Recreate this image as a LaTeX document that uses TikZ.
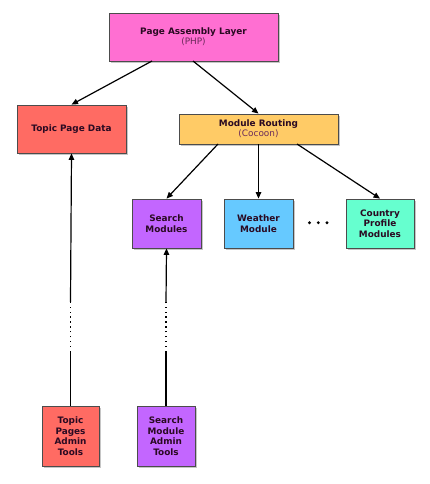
\documentclass[tikz,border=0pt]{standalone}
\usepackage{fontspec}
\setmainfont{DejaVu Sans}
\usetikzlibrary{arrows.meta,shadows}
\definecolor{cpink}{HTML}{FF6FD2}
\definecolor{cred}{HTML}{FF6B63}
\definecolor{corange}{HTML}{FFCB66}
\definecolor{cpurple}{HTML}{C366FF}
\definecolor{cblue}{HTML}{66C9FF}
\definecolor{cgreen}{HTML}{66FFCF}
\definecolor{ctext}{HTML}{2A0A22}
\definecolor{csub}{HTML}{6A2A5A}
\begin{document}
\begin{tikzpicture}[x=1pt,y=-1pt,
  box/.style={draw=black!70,line width=0.8pt,inner sep=0pt,align=center,
    font=\fontsize{8.9}{10.6}\selectfont\bfseries,text=ctext,
    drop shadow={opacity=0.45,shadow xshift=1.5pt,shadow yshift=-1.8pt}},
  arr/.style={line width=1.2pt,-{Triangle[length=6.5pt,width=5.5pt]}},
  ln/.style={line width=1.2pt},
  dots/.style={line width=1.3pt,dash pattern=on 1.3pt off 3.6pt}]
\useasboundingbox (0,0) rectangle (430,484);
\node[box,fill=cpink,minimum width=169pt,minimum height=48pt] (pal) at (193.5,37)
  {Page Assembly Layer\\[-0.5pt]{\mdseries\color{csub}(PHP)}};
\node[box,fill=cred,minimum width=109pt,minimum height=48pt] (tpd) at (71.5,129) {Topic Page Data};
\node[box,fill=corange,minimum width=159pt,minimum height=30pt] (mr) at (258.5,129)
  {Module Routing\\[-0.5pt]{\mdseries\color{csub}(Cocoon)}};
\node[box,fill=cpurple,minimum width=69pt,minimum height=49pt] (sm) at (166.5,223.5) {Search\\Modules};
\node[box,fill=cblue,minimum width=69pt,minimum height=49pt] (wm) at (258.5,223.5) {Weather\\Module};
\node[box,fill=cgreen,minimum width=68pt,minimum height=49pt] (cp) at (380,223.5) {Country\\Profile\\Modules};
\fill (309.5,222.7) circle (1.6pt) (318.3,222.7) circle (1.6pt) (327,222.7) circle (1.6pt);
\node[box,fill=cred,minimum width=57pt,minimum height=60pt] (tpa) at (70.5,436) {Topic\\Pages\\Admin\\Tools};
\node[box,fill=cpurple,minimum width=58pt,minimum height=60pt] (sma) at (166,436) {Search\\Module\\Admin\\Tools};
\coordinate (a1) at (70.5,352);
\coordinate (a2) at (70.5,302);
\coordinate (b1) at (166,352);
\coordinate (b2) at (166,302);
\draw[arr] (152,61) -- (tpd.north);
\draw[arr] (193,61) -- (mr.north);
\draw[arr] (218,144) -- (sm.north);
\draw[arr] (mr.south) -- (wm.north);
\draw[arr] (297,144) -- (cp.north);
\draw[ln] (tpa.north) -- (a1);
\draw[dots] (a1) -- (a2);
\draw[arr] (a2) -- (tpd.south);
\draw[ln] (sma.north) -- (b1);
\draw[dots] (b1) -- (b2);
\draw[arr] (b2) -- (sm.south);
\end{tikzpicture}
\end{document}
